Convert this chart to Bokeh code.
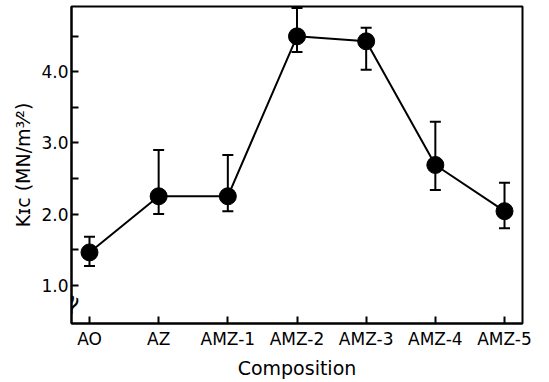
from bokeh.plotting import figure
from bokeh.models import ColumnDataSource, Whisker, FixedTicker, TeeHead
from bokeh.core.properties import value
from bokeh.embed import file_html
from bokeh.resources import INLINE

compositions = ["AO", "AZ", "AMZ-1", "AMZ-2", "AMZ-3", "AMZ-4", "AMZ-5"]
kic = [1.46, 2.25, 2.25, 4.50, 4.43, 2.69, 2.04]
err_upper = [1.68, 2.90, 2.83, 4.90, 4.62, 3.30, 2.44]
err_lower = [1.27, 2.00, 2.04, 4.28, 4.03, 2.34, 1.80]
y_ticks = [1.0, 2.0, 3.0, 4.0]
y_tick_labels = ["1.0", "2.0", "3.0", "4.0"]
y_minor = [1.5, 2.5, 3.5, 4.5]

FONT = "DejaVu Sans"

xpos = list(range(len(compositions)))
src = ColumnDataSource(dict(x=xpos, y=kic, upper=err_upper, lower=err_lower))

p = figure(x_range=(-0.26, 6.26), y_range=(0.46, 4.92), width=549, height=381,
           output_backend="svg", toolbar_location=None,
           min_border_left=71, min_border_right=27, min_border_top=6, min_border_bottom=10)

p.grid.visible = False
p.background_fill_color = "white"
p.border_fill_color = "white"
p.outline_line_color = "black"
p.outline_line_width = 2

p.line("x", "y", source=src, line_color="black", line_width=2)
w = Whisker(source=src, base="x", upper="upper", lower="lower",
            line_color="black", line_width=2,
            upper_head=TeeHead(size=11, line_color="black", line_width=2),
            lower_head=TeeHead(size=11, line_color="black", line_width=2))
p.add_layout(w)
p.scatter("x", "y", source=src, size=17, color="black")

# axis break mark
p.text(x=[-0.26], y=[0.73], text=["≈"], angle=1.1, text_align="center",
       text_baseline="middle", text_font_size="26px", text_color="black",
       text_font=value("DejaVu Sans"))

yax = p.yaxis[0]
yax.ticker = FixedTicker(ticks=y_ticks, minor_ticks=y_minor)
yax.major_label_overrides = {t: l for t, l in zip(y_ticks, y_tick_labels)}
yax.axis_label = "Kɪᴄ (MN/m³⁄²)"
xax = p.xaxis[0]
xax.ticker = FixedTicker(ticks=xpos, minor_ticks=[])
xax.major_label_overrides = {i: c for i, c in zip(xpos, compositions)}
xax.axis_label = "Composition"
for ax in (xax, yax):
    ax.axis_line_width = 2
    ax.axis_line_color = "black"
    ax.major_tick_line_width = 2
    ax.major_tick_line_color = "black"
    ax.major_tick_in = 7
    ax.major_tick_out = 0
    ax.minor_tick_in = 7
    ax.minor_tick_out = 0
    ax.minor_tick_line_width = 2
    ax.major_label_text_font = FONT
    ax.major_label_text_font_size = "17px"
    ax.major_label_text_color = "black"
    ax.axis_label_text_font = FONT
    ax.axis_label_text_font_size = "19px"
    ax.axis_label_text_font_style = "normal"
    ax.axis_label_text_color = "black"
yax.major_label_standoff = 3
yax.axis_label_standoff = 4
xax.major_label_standoff = 5
xax.axis_label_standoff = 5

open("out.html", "w").write(file_html(p, INLINE))
